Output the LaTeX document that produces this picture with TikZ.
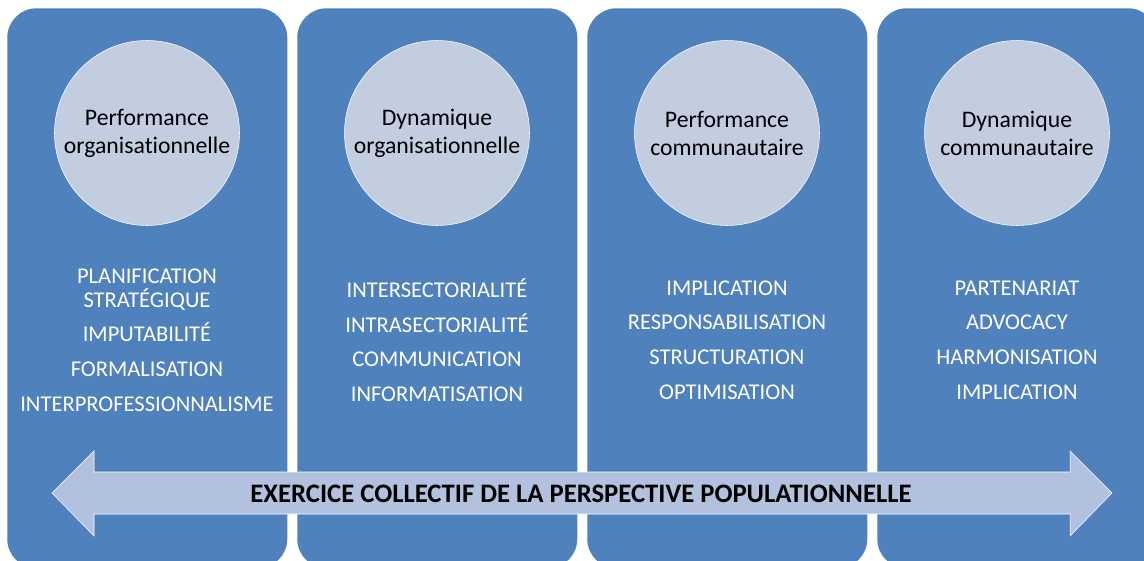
\documentclass[tikz,border=0pt]{standalone}
\usepackage{fontspec}
\setmainfont[Ligatures=NoCommon]{Carlito}
\usepackage{tikz}
\newcommand{\colwidth}{210pt}
\newcommand{\colheight}{420pt}
\newcommand{\bubblesize}{138.75pt}
\definecolor{myBlue}{RGB}{79,129,189}
\definecolor{myCircle}{RGB}{194,205,224}
\definecolor{myArrow}{RGB}{177,193,222}
\usetikzlibrary{positioning}
\tikzset{
  col/.style={fill=myBlue,shape=rectangle,rounded corners=22pt,minimum width=\colwidth,minimum height=\colheight,anchor=north west,inner sep=0},
  bubble/.style={draw=white,thin,fill=myCircle,shape=circle,minimum size=\bubblesize,inner sep=0,align=center,font=\fontsize{17.8}{21}\selectfont},
  list/.style={text=white,align=center,inner sep=0,font=\fontsize{16.9}{18}\selectfont},
  banner/.style={draw=white,thin,fill=myArrow,line join=miter},
}

\begin{document}
\begin{tikzpicture}[x=0.75pt,y=-0.75pt]
  \useasboundingbox (0,0) rectangle (1144,560);
  \fill[white] (0,0) rectangle (1144,560);
  \clip (0,0) rectangle (1144,560);
  % columns
  \node (c1) [col] at (7,8) {};
  \node (c2) [col] at (297,8) {};
  \node (c3) [col] at (587,8) {};
  \node (c4) [col] at (877,8) {};
  % circles
  \node (b1) [bubble] at (147,133) {Performance\\organisationnelle};
  \node (b2) [bubble] at (437,133) {Dynamique\\organisationnelle};
  \node (b3) [bubble] at (727,133) {Performance\\communautaire};
  \node (b4) [bubble] at (1017,133) {Dynamique\\communautaire};
  % lists
  \node (l1) [list] at (147,340) {PLANIFICATION\\STRATÉGIQUE\\[8pt]IMPUTABILITÉ\\[8pt]FORMALISATION\\[8pt]INTERPROFESSIONNALISME};
  \node (l2) [list] at (437,340) {INTERSECTORIALITÉ\\[8pt]INTRASECTORIALITÉ\\[8pt]COMMUNICATION\\[8pt]INFORMATISATION};
  \node (l3) [list] at (727,340) {IMPLICATION\\[8pt]RESPONSABILISATION\\[8pt]STRUCTURATION\\[8pt]OPTIMISATION};
  \node (l4) [list] at (1017,340) {PARTENARIAT\\[8pt]ADVOCACY\\[8pt]HARMONISATION\\[8pt]IMPLICATION};
  % double arrow
  \coordinate (tl) at (52,493);
  \coordinate (tr) at (1112,493);
  \path [banner] (tl) -- (94,451) -- (94,472) -- (1070,472) -- (1070,451) -- (tr)
    -- (1070,536) -- (1070,514) -- (94,514) -- (94,536) -- cycle;
  \node (t) [font=\fontsize{20}{24}\selectfont\bfseries] at (581,494) {EXERCICE COLLECTIF DE LA PERSPECTIVE POPULATIONNELLE};
\end{tikzpicture}
\end{document}
